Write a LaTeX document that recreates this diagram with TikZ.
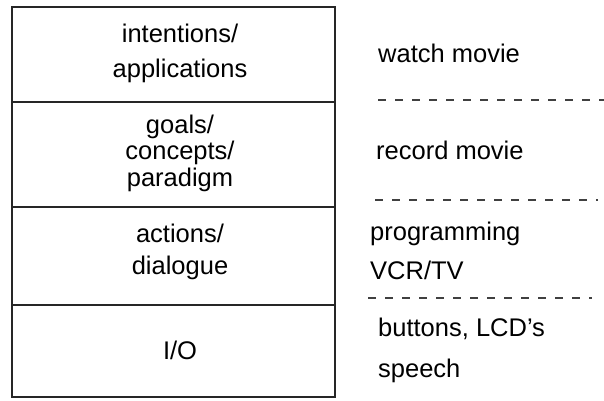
\documentclass[tikz,border=0pt]{standalone}
\usepackage{fontspec}
\setmainfont{Liberation Sans}
\begin{document}
\begin{tikzpicture}[x=1pt,y=-1pt,
  layertext/.style={align=center,font=\fontsize{25.5}{30}\selectfont,inner sep=0pt},
  sidetext/.style={anchor=west,align=left,font=\fontsize{25.5}{30}\selectfont,inner sep=0pt},
  frame/.style={line width=2.6pt,draw=black!85},
  divider/.style={line width=2pt,draw=black!85},
  sep/.style={line width=1.1pt,draw=black!75,dash pattern=on 8pt off 9pt}]
\useasboundingbox (0,0) rectangle (604,400);
% stacked layers
\draw[frame] (12,7) rectangle (335,397);
\coordinate (d1l) at (12,102); \coordinate (d1r) at (335,102);
\coordinate (d2l) at (12,207); \coordinate (d2r) at (335,207);
\coordinate (d3l) at (12,305); \coordinate (d3r) at (335,305);
\draw[divider] (d1l) -- (d1r);
\draw[divider] (d2l) -- (d2r);
\draw[divider] (d3l) -- (d3r);
\node[layertext] (l1a) at (180,33) {intentions/};
\node[layertext] (l1b) at (180,71) {applications};
\node[layertext] (l2a) at (180,127) {goals/};
\node[layertext] (l2b) at (180,153) {concepts/};
\node[layertext] (l2c) at (180,180) {paradigm};
\node[layertext] (l3a) at (180,233) {actions/};
\node[layertext] (l3b) at (180,268) {dialogue};
\node[layertext] (l4) at (180,350) {I/O};
% examples
\node[sidetext] (e1) at (378,53) {watch movie};
\node[sidetext] (e2) at (376,150) {record movie};
\node[sidetext] (e3a) at (370,234) {programming};
\node[sidetext] (e3b) at (370,270) {VCR/TV};
\node[sidetext] (e4a) at (378,329) {buttons, LCD's};
\node[sidetext] (e4b) at (378,371) {speech};
\coordinate (s1l) at (378,100); \coordinate (s1r) at (604,100);
\coordinate (s2l) at (375,200); \coordinate (s2r) at (598,200);
\coordinate (s3l) at (368,298); \coordinate (s3r) at (592,298);
\draw[sep] (s1l) -- (s1r);
\draw[sep] (s2l) -- (s2r);
\draw[sep] (s3l) -- (s3r);
\end{tikzpicture}
\end{document}
